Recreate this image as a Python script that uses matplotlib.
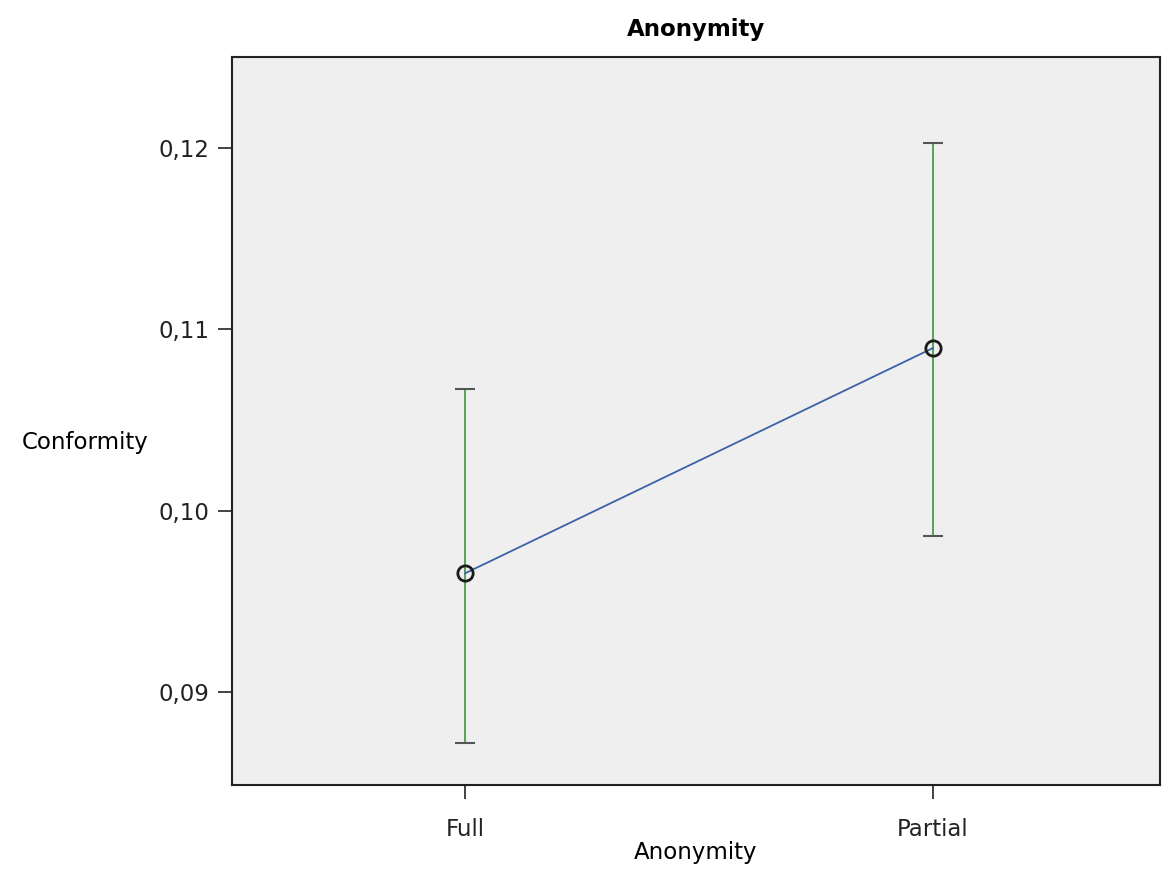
import matplotlib.pyplot as plt
from matplotlib.ticker import FuncFormatter

plt.rcParams['font.family'] = ['DejaVu Sans']

# data
groups = ['Full', 'Partial']
means = [0.09656, 0.10897]
upper = [0.10671, 0.12028]
lower = [0.08724, 0.09860]

x = list(range(len(groups)))
err_lo = [m - l for m, l in zip(means, lower)]
err_hi = [u - m for u, m in zip(upper, means)]

fig = plt.figure(figsize=(11.72, 8.69), dpi=100)
ax = fig.add_axes([232 / 1172, 1 - 785 / 869, 928 / 1172, 728 / 869])
ax.set_facecolor('#efefef')

# error bars: green stems, dark caps
eb = ax.errorbar(x, means, yerr=[err_lo, err_hi], fmt='none', ecolor='#4c9a4c',
                 elinewidth=1.3, capsize=7.5, capthick=1.5, zorder=2)
for cap in eb[1]:
    cap.set_color('#555555')
    cap.set_markeredgecolor('#555555')

ax.plot(x, means, color='#3b62a8', linewidth=1.3, zorder=3)
ax.plot(x, means, 'o', markersize=11, markerfacecolor='none',
        markeredgecolor='#1a1a1a', markeredgewidth=2, zorder=4)

ax.set_xlim(-0.498, 1.485)
ax.set_ylim(0.0849, 0.1250)
ax.set_xticks(x)
ax.set_xticklabels(groups)
ax.set_yticks([0.09, 0.10, 0.11, 0.12])
ax.yaxis.set_major_formatter(FuncFormatter(lambda v, p: f'{v:.2f}'.replace('.', ',')))
ax.tick_params(axis='both', direction='out', length=10, width=1.2, labelsize=16.5, colors='#222222')
ax.tick_params(axis='x', pad=14)
ax.tick_params(axis='y', pad=6)

for s in ax.spines.values():
    s.set_linewidth(1.5)
    s.set_color('#222222')

ax.set_title('Anonymity', fontsize=16.5, fontweight='bold', pad=15)
ax.set_xlabel('Anonymity', fontsize=16.5, labelpad=0)
ax.set_ylabel('Conformity', fontsize=16.5, rotation=0)
ax.yaxis.set_label_coords(-0.158, 0.455)

fig.savefig('out.png', dpi=100)
